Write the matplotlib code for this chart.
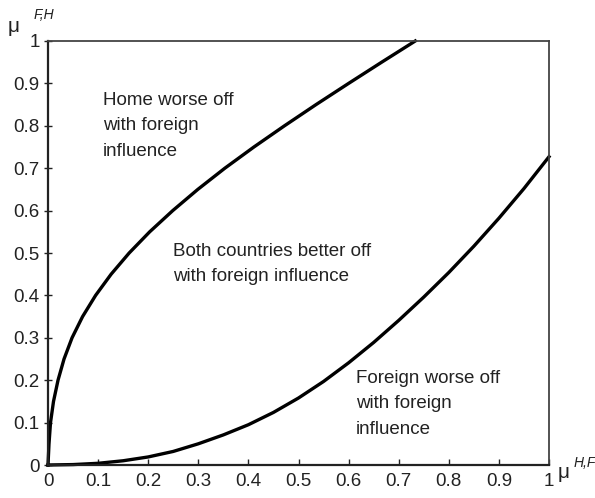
import matplotlib
matplotlib.use("Agg")
import matplotlib.pyplot as plt

plt.rcParams['font.family'] = ['Liberation Sans', 'DejaVu Sans']

# Upper curve: boundary above which Home is worse off
home_y = [0.0, 0.05, 0.1, 0.15, 0.2, 0.25, 0.3, 0.35, 0.4, 0.45, 0.5,
          0.55, 0.6, 0.65, 0.7, 0.75, 0.8, 0.85, 0.9, 0.95, 1.0]
home_x = [0.0, 0.002, 0.005, 0.011, 0.020, 0.032, 0.048, 0.069, 0.095, 0.126, 0.162,
          0.203, 0.249, 0.299, 0.353, 0.411, 0.472, 0.535, 0.600, 0.666, 0.733]

# Lower curve: boundary below which Foreign is worse off
foreign_x = [0.0, 0.05, 0.1, 0.15, 0.2, 0.25, 0.3, 0.35, 0.4, 0.45, 0.5,
             0.55, 0.6, 0.65, 0.7, 0.75, 0.8, 0.85, 0.9, 0.95, 1.0]
foreign_y = [0.0, 0.001, 0.004, 0.010, 0.019, 0.032, 0.050, 0.071, 0.095, 0.124, 0.158,
             0.197, 0.241, 0.289, 0.341, 0.396, 0.454, 0.516, 0.582, 0.652, 0.727]

ticks = [0, 0.1, 0.2, 0.3, 0.4, 0.5, 0.6, 0.7, 0.8, 0.9, 1]
tick_labels = ["0", "0.1", "0.2", "0.3", "0.4", "0.5", "0.6", "0.7", "0.8", "0.9", "1"]

fig = plt.figure(figsize=(5.95, 4.98), dpi=100)
ax = fig.add_axes([48/595, 1 - 465/498, (549-48)/595, (465-41)/498])

ax.plot(home_x, home_y, color='black', lw=2.4, solid_joinstyle='round', clip_on=False)
ax.plot(foreign_x, foreign_y, color='black', lw=2.4, solid_joinstyle='round', clip_on=False)

ax.set_xlim(0, 1)
ax.set_ylim(0, 1)
ax.set_xticks(ticks)
ax.set_xticklabels(tick_labels)
ax.set_yticks(ticks)
ax.set_yticklabels(tick_labels)
ax.tick_params(axis='x', direction='in', length=4.5, width=1, labelsize=13.5, pad=6, colors='#222222')
ax.tick_params(axis='y', direction='inout', length=6, width=1, labelsize=13.5, pad=3, colors='#222222')

for side in ['left', 'bottom']:
    ax.spines[side].set_linewidth(1.6)
    ax.spines[side].set_color('#222222')
for side in ['top', 'right']:
    ax.spines[side].set_linewidth(1.3)
    ax.spines[side].set_color('#444444')

tc = '#222222'
fs = 13.5


def fx(px):
    return (px - 48) / 501


def fy(py):
    return (465 - py) / 424


ax.text(fx(103), fy(92), "Home worse off\nwith foreign\ninfluence", fontsize=fs, color=tc,
        ha='left', va='top', linespacing=1.65)
ax.text(fx(173), fy(243), "Both countries better off\nwith foreign influence", fontsize=fs, color=tc,
        ha='left', va='top', linespacing=1.65)
ax.text(fx(356), fy(370), "Foreign worse off\nwith foreign\ninfluence", fontsize=fs, color=tc,
        ha='left', va='top', linespacing=1.65)

# Axis labels
fig.text(8/595, 1 - 26/498, "μ", fontsize=15, color=tc, ha='left', va='center')
fig.text(34/595, 1 - 15/498, "F,H", fontsize=10, style='italic', color=tc, ha='left', va='center')
fig.text(558/595, 1 - 472/498, "μ", fontsize=15, color=tc, ha='left', va='center')
fig.text(574/595, 1 - 463/498, "H,F", fontsize=10, style='italic', color=tc, ha='left', va='center')

fig.savefig("out.png", dpi=100)
